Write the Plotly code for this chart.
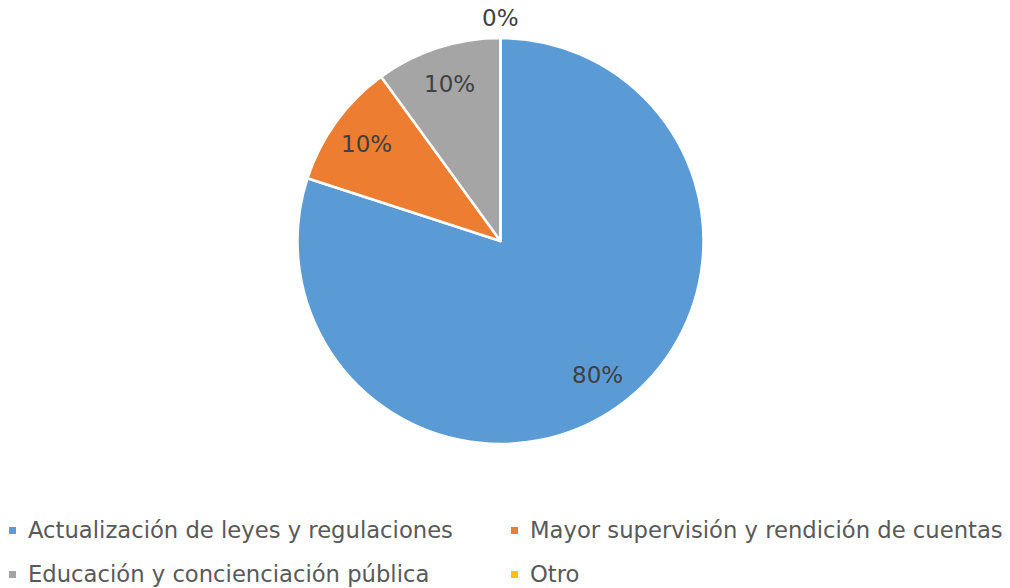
import math
import plotly.graph_objects as go

categories = ["Actualización de leyes y regulaciones",
              "Mayor supervisión y rendición de cuentas",
              "Educación y concienciación pública",
              "Otro"]
values = [80, 10, 10, 0]
colors = ["#5B9BD5", "#ED7D31", "#A5A5A5", "#FFC000"]

W, H = 1010, 588
cx, cy, r = 500.5, 241, 203
dom_x = [(cx - r) / W, (cx + r) / W]
dom_y = [1 - (cy + r) / H, 1 - (cy - r) / H]

fig = go.Figure(go.Pie(
    labels=categories, values=values, sort=False, direction="clockwise",
    rotation=0, marker=dict(colors=colors, line=dict(color="white", width=2.5)),
    textinfo="none", hoverinfo="label+percent",
    domain=dict(x=dom_x, y=dom_y), showlegend=False,
))

total = sum(values)
ann = []
shapes = []
cum = 0
for v in values:
    mid = (cum + v / 2) / total * 2 * math.pi
    cum += v
    pct = f"{round(100 * v / total)}%"
    d = 0.815 * r if v > 0 else r + 20
    px = cx + d * math.sin(mid)
    py = cy - d * math.cos(mid)
    ann.append(dict(x=px / W, y=1 - py / H, xref="paper", yref="paper",
                    text=pct, showarrow=False,
                    font=dict(size=23, color="#404040", family="DejaVu Sans"),
                    xanchor="center", yanchor="middle"))

# custom two-column legend
col_x = [9, 511]
row_y = [530.5, 574.5]
for i, (name, col) in enumerate(zip(categories, colors)):
    mx = col_x[i % 2]
    my = row_y[i // 2]
    shapes.append(dict(type="rect", xref="paper", yref="paper",
                       x0=mx / W, x1=(mx + 7) / W,
                       y0=1 - (my + 3.5) / H, y1=1 - (my - 3.5) / H,
                       fillcolor=col, line=dict(width=0)))
    ann.append(dict(x=(mx + 17) / W, y=1 - (my - 1) / H, xref="paper", yref="paper",
                    text=name, showarrow=False,
                    font=dict(size=22.7, color="#595959", family="DejaVu Sans"),
                    xanchor="left", yanchor="middle"))

fig.update_layout(
    width=W, height=H, margin=dict(l=0, r=0, t=0, b=0, autoexpand=False),
    paper_bgcolor="white", plot_bgcolor="white",
    annotations=ann, shapes=shapes, showlegend=False,
    font=dict(family="DejaVu Sans", size=20, color="#595959"),
)
fig.write_html("out.html", config={"displayModeBar": False},
               post_script="document.body.style.margin='0px';document.body.style.overflow='hidden';")
